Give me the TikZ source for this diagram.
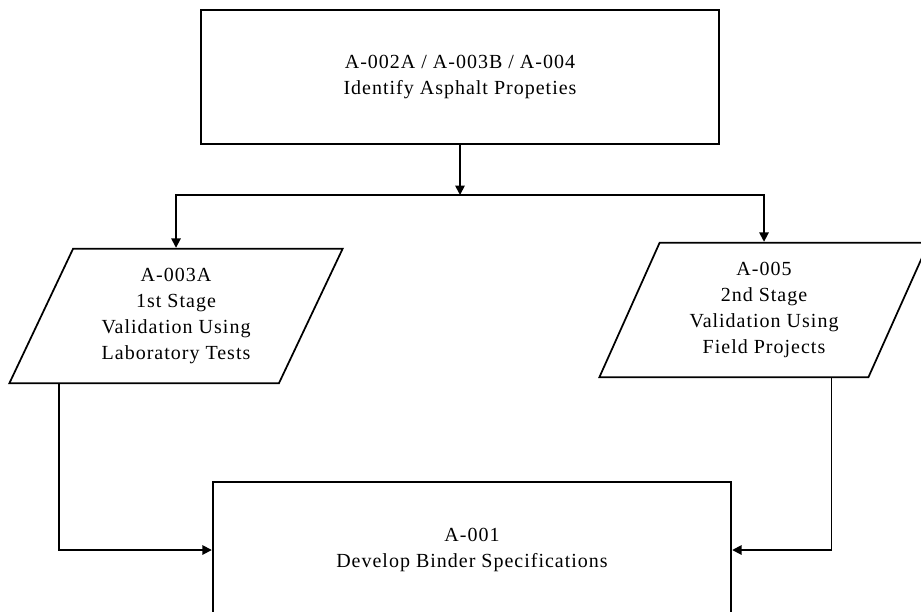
\documentclass[tikz,border=0pt]{standalone}
\usepackage{fontspec}
\setmainfont{Liberation Serif}[LetterSpace=5]
\usetikzlibrary{shapes.geometric,arrows.meta}

\begin{document}
\begin{tikzpicture}[
        x=0.75pt, y=-0.75pt,
        >={Triangle[length=7pt,width=7pt]},
        every node/.style={font=\fontsize{15}{19.5}\selectfont},
        box/.style={draw, line width=1.3pt, align=center, minimum width=389pt, minimum height=100pt},
        stage/.style={draw, line width=1.3pt, align=center, trapezium, trapezium stretches body, minimum height=101pt},
        flow/.style={->, line width=1.3pt}
    ]
        \useasboundingbox (0,0) rectangle (921,611);
        \clip (0,0) rectangle (921,611);

        \node[box] (props) at (460,77) {A-002A / A-003B / A-004\\Identify Asphalt Propeties};

        \node[stage, trapezium left angle=58.6, trapezium right angle=121.4, minimum width=250pt] (lab) at (176,316) {A-003A\\1st Stage\\Validation Using\\Laboratory Tests};
        \node[stage, trapezium left angle=60, trapezium right angle=120, minimum width=247pt] (field) at (764,310) {A-005\\2nd Stage\\Validation Using\\Field Projects};

        \node[box, minimum height=102pt] (spec) at (472,550) {A-001\\Develop Binder Specifications};

        \coordinate (split) at (460,195);

        \draw[flow] (props.south) -- (split);
        \draw[flow] (split) -| (lab.north);
        \draw[flow] (split) -| (field.north);

        \draw[flow] ([xshift=-88pt]lab.south) |- (spec.west);
        \draw[flow] ([xshift=50.6pt]field.south) |- (spec.east);
    \end{tikzpicture}
\end{document}
